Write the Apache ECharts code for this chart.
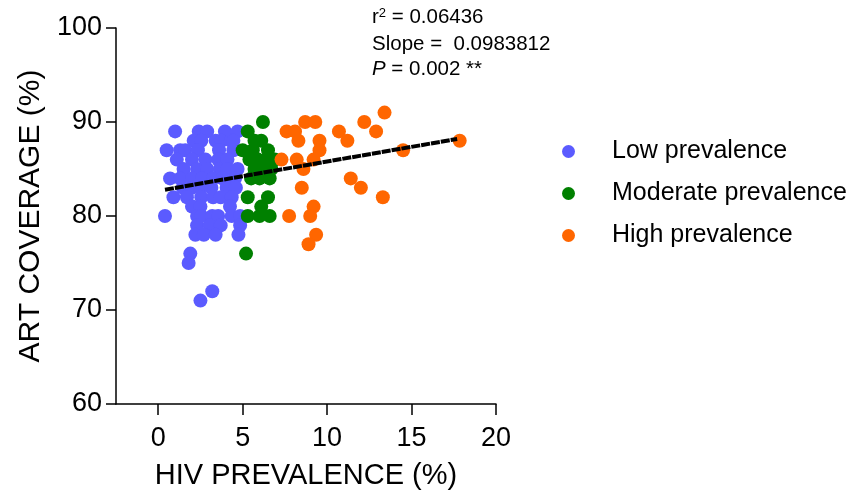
<!DOCTYPE html>
<html>
<head>
<meta charset="utf-8">
<script src="https://cdn.jsdelivr.net/npm/echarts@6/dist/echarts.min.js"></script>
<style>
html,body{margin:0;padding:0;background:#fff;}
#chart{width:861px;height:495px;}
</style>
</head>
<body>
<div id="chart"></div>
<script>
// ---- data ----
var seriesNames = ['Low prevalence', 'Moderate prevalence', 'High prevalence'];
var xTicks = [0, 5, 10, 15, 20];
var yTicks = [60, 70, 80, 90, 100];

var lowX = [1.0, 2.4, 2.9, 3.95, 4.7,
            2.1, 2.55, 3.4, 3.75, 4.3, 4.45,
            0.5, 1.3, 1.6, 2.35, 3.6, 4.45,
            1.1, 2.0, 2.8, 3.55, 4.1,
            1.5, 2.3, 2.9, 3.65, 4.1, 4.7,
            0.7, 1.3, 2.0, 2.6, 3.25, 3.8, 4.55,
            1.45, 2.0, 2.5, 3.15, 4.05, 4.6,
            0.9, 1.7, 2.55, 3.25, 3.7, 4.35,
            2.0, 2.5, 4.25,
            0.4, 2.3, 2.55, 3.2, 3.55, 4.35, 4.85,
            2.3, 3.05, 3.7, 4.85,
            2.2, 2.7, 3.4, 4.75,
            1.9, 1.8, 3.2, 2.5];
var lowY = [89, 89, 89, 89, 89,
            88, 88, 88, 88, 88, 88,
            87, 87, 87, 87, 87, 87,
            86, 86, 86, 86, 86,
            85, 85, 85, 85, 85, 85,
            84, 84, 84, 84, 84, 84, 84,
            83, 83, 83, 83, 83, 83,
            82, 82, 82, 82, 82, 82,
            81, 81, 81,
            80, 80, 80, 80, 80, 80, 80,
            79, 79, 79, 79,
            78, 78, 78, 78,
            76, 75, 72, 71];

var modX = [6.2, 5.3, 5.7, 6.1, 5.0, 5.6, 6.5, 5.4, 5.9, 6.4, 6.9, 5.7, 6.2, 6.7,
            5.5, 6.0, 6.6, 5.3, 6.5, 6.1, 5.3, 6.0, 6.6, 5.2];
var modY = [90, 89, 88, 88, 87, 87, 87, 86, 86, 86, 86, 85, 85, 85,
            84, 84, 84, 82, 82, 81, 80, 80, 80, 76];

var highX = [7.6, 8.1, 8.7, 9.3, 8.3, 9.55, 9.55, 7.3, 8.2, 9.2, 8.6, 8.5, 9.2, 7.75,
             9.0, 9.35, 8.9, 10.7, 11.2, 11.4, 12.0, 12.2, 12.9, 13.4, 13.3, 14.5, 17.85];
var highY = [89, 89, 90, 90, 88, 88, 87, 86, 86, 86, 85, 83, 81, 80,
             80, 78, 77, 89, 88, 84, 83, 90, 89, 91, 82, 87, 88];

var trendX = [0.4, 17.7];
var trendY = [82.8, 88.2];

function pairs(xs, ys) {
  var out = [];
  for (var i = 0; i < xs.length; i++) out.push([xs[i], ys[i]]);
  return out;
}

var FONT = 'Liberation Sans, Arial, Helvetica, sans-serif';
var colors = ['#5B5BFF', '#008000', '#FF6600'];

var chart = echarts.init(document.getElementById('chart'), null, {renderer: 'canvas'});
chart.setOption({
  animation: false,
  backgroundColor: '#ffffff',
  textStyle: {fontFamily: FONT},
  grid: {left: 116, top: 28, width: 380, height: 377, containLabel: false},
  xAxis: {
    type: 'value',
    min: -2.5, max: 20,
    name: 'HIV PREVALENCE (%)',
    nameLocation: 'middle',
    nameGap: 57,
    nameTextStyle: {fontSize: 29, color: '#000', fontFamily: FONT},
    splitLine: {show: false},
    axisLine: {onZero: false, lineStyle: {color: '#000', width: 1.5}},
    axisTick: {show: true, length: 11, customValues: xTicks, lineStyle: {color: '#000', width: 1.5}},
    axisLabel: {customValues: xTicks, fontSize: 27, color: '#000', margin: 21, fontFamily: FONT}
  },
  yAxis: {
    type: 'value',
    min: yTicks[0], max: yTicks[yTicks.length - 1], interval: 10,
    name: 'ART COVERAGE (%)',
    nameLocation: 'middle',
    nameGap: 70,
    nameTextStyle: {fontSize: 30, color: '#000', fontFamily: FONT},
    splitLine: {show: false},
    axisLine: {onZero: false, lineStyle: {color: '#000', width: 1.5}},
    axisTick: {show: true, length: 10, lineStyle: {color: '#000', width: 1.5}},
    axisLabel: {fontSize: 27, color: '#000', margin: 14, fontFamily: FONT}
  },
  legend: {
    data: seriesNames,
    orient: 'vertical',
    left: 557, top: 134,
    icon: 'circle',
    itemWidth: 13, itemHeight: 13,
    itemGap: 17,
    textStyle: {fontSize: 25, color: '#000', fontFamily: FONT, padding: [0, 0, 0, 32]}
  },
  graphic: [
    {type: 'text', left: 372, top: 7, style: {
      text: 'r{sup|2} = 0.06436', fontSize: 20.5, fill: '#000', fontFamily: FONT,
      rich: {sup: {fontSize: 13, verticalAlign: 'top', fill: '#000', fontFamily: FONT}}
    }},
    {type: 'text', left: 372, top: 34, style: {
      text: 'Slope =  0.0983812', fontSize: 20.5, fill: '#000', fontFamily: FONT
    }},
    {type: 'text', left: 372, top: 59, style: {
      text: '{i|P} = 0.002 **', fontSize: 20.5, fill: '#000', fontFamily: FONT,
      rich: {i: {fontStyle: 'italic', fontSize: 20.5, fill: '#000', fontFamily: FONT}}
    }}
  ],
  series: [
    {name: seriesNames[0], type: 'scatter', data: pairs(lowX, lowY), symbolSize: 14,
     itemStyle: {color: colors[0], opacity: 1}, z: 2},
    {name: seriesNames[1], type: 'scatter', data: pairs(modX, modY), symbolSize: 14,
     itemStyle: {color: colors[1], opacity: 1}, z: 2},
    {name: seriesNames[2], type: 'scatter', data: pairs(highX, highY), symbolSize: 14,
     itemStyle: {color: colors[2], opacity: 1}, z: 2},
    {name: 'trend', type: 'line', data: pairs(trendX, trendY), symbol: 'none',
     lineStyle: {color: '#000', width: 4, type: [9, 1]}, z: 5, silent: true}
  ]
});
</script>
</body>
</html>
